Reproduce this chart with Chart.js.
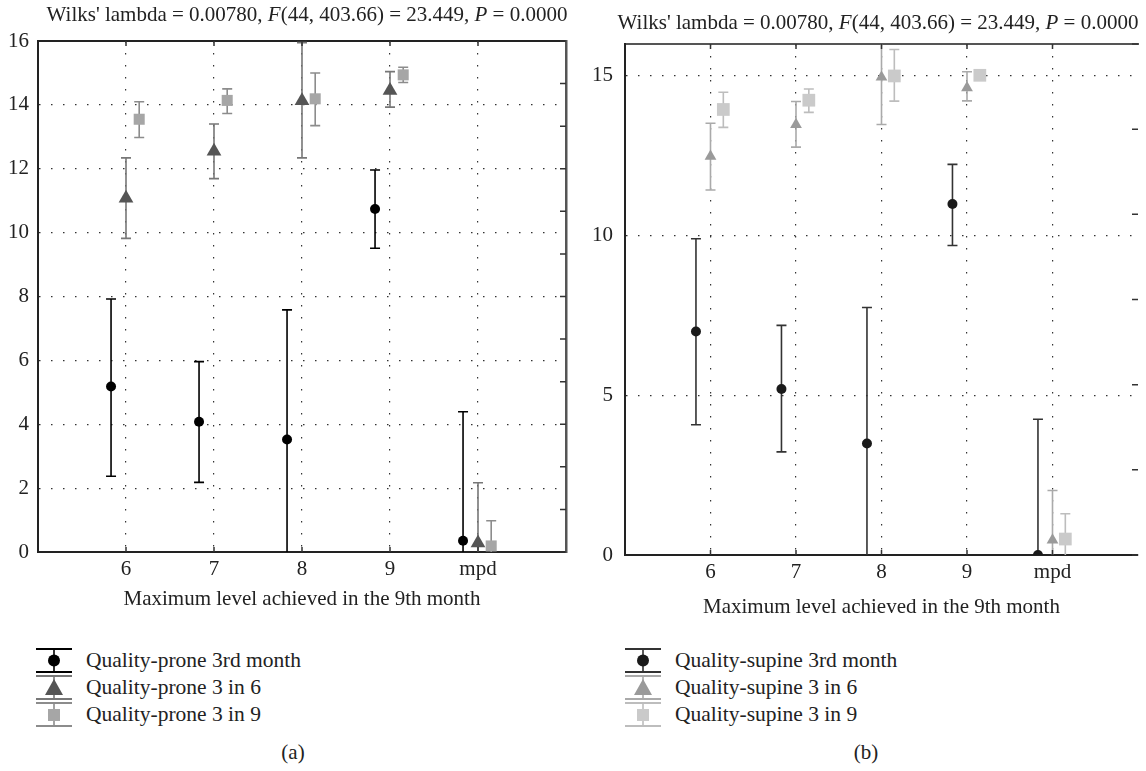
<!DOCTYPE html>
<html>
<head>
<meta charset="utf-8">
<script src="https://cdn.jsdelivr.net/npm/chart.js@4.4.0/dist/chart.umd.min.js"></script>
<style>
  body { margin: 0; background: #fff; overflow: hidden; font-family: "Liberation Serif", serif; color: #222; }
  #page { position: relative; width: 1146px; height: 771px; overflow: hidden; }
  canvas { position: absolute; top: 0; }
  .title { position: absolute; font-size: 21px; line-height: 24px; white-space: nowrap; transform: translateX(-50%); }
  .legend { position: absolute; font-size: 21.5px; }
  .row { height: 27px; display: flex; align-items: center; white-space: nowrap; }
  .row svg { margin-right: 14px; }
  .tag { position: absolute; font-size: 21px; line-height: 24px; transform: translateX(-50%); }
</style>
</head>
<body>
<div id="page">
  <canvas id="proneCanvas" width="580" height="620" style="left:0"></canvas>
  <canvas id="supineCanvas" width="567" height="620" style="left:580px"></canvas>

  <div class="title" style="left:307px; top:2px">Wilks' lambda = 0.00780, <i>F</i>(44, 403.66) = 23.449, <i>P</i> = 0.0000</div>
  <div class="title" style="left:878px; top:10px">Wilks' lambda = 0.00780, <i>F</i>(44, 403.66) = 23.449, <i>P</i> = 0.0000</div>

  <div class="legend" id="proneLegend" style="left:36px; top:647px"></div>
  <div class="legend" id="supineLegend" style="left:625px; top:647px"></div>

  <div class="tag" style="left:293px; top:740px">(a)</div>
  <div class="tag" style="left:866px; top:740px">(b)</div>
</div>

<script>
// categories on the x axis (mpd sits in the 10th slot)
var categories = ['6', '7', '8', '9', 'mpd'];
var catPos = [6, 7, 8, 9, 10];

// (a) prone
var proneMonth3 = [5.18, 4.08, 3.52, 10.74, 0.35];
var proneMonth3Lo = [2.37, 2.18, -0.54, 9.51, -3.70];
var proneMonth3Hi = [7.92, 5.96, 7.58, 11.96, 4.39];
var prone3in6 = [11.08, 12.55, 14.13, 14.45, 0.28];
var prone3in6Lo = [9.82, 11.69, 12.34, 13.93, -1.60];
var prone3in6Hi = [12.34, 13.40, 15.95, 15.04, 2.17];
var prone3in9 = [13.55, 14.14, 14.19, 14.94, 0.19];
var prone3in9Lo = [12.98, 13.73, 13.35, 14.70, -0.60];
var prone3in9Hi = [14.10, 14.50, 15.00, 15.18, 0.98];

// (b) supine
var supineMonth3 = [7.00, 5.20, 3.49, 10.99, 0.00];
var supineMonth3Lo = [4.08, 3.23, -0.77, 9.69, -4.25];
var supineMonth3Hi = [9.90, 7.19, 7.75, 12.23, 4.25];
var supine3in6 = [12.48, 13.48, 14.96, 14.63, 0.47];
var supine3in6Lo = [11.43, 12.77, 13.48, 14.22, -1.10];
var supine3in6Hi = [13.52, 14.20, 16.44, 15.13, 2.02];
var supine3in9 = [13.95, 14.24, 15.00, 15.02, 0.50];
var supine3in9Lo = [13.39, 13.86, 14.21, 14.90, -0.30];
var supine3in9Hi = [14.49, 14.59, 15.83, 15.15, 1.29];

var proneLabels = ['Quality-prone 3rd month', 'Quality-prone 3 in 6', 'Quality-prone 3 in 9'];
var supineLabels = ['Quality-supine 3rd month', 'Quality-supine 3 in 6', 'Quality-supine 3 in 9'];

Chart.defaults.font.family = '"Liberation Serif", serif';
Chart.defaults.color = '#222';

function points(values, lows, highs, shift) {
  return catPos.map(function (c, i) {
    return { x: c + shift, y: values[i], lo: lows[i], hi: highs[i] };
  });
}

// error bars, drawn under the markers
var whiskerPlugin = {
  id: 'whiskers',
  beforeDatasetsDraw: function (chart) {
    var ctx = chart.ctx, xs = chart.scales.x, ys = chart.scales.y, a = chart.chartArea;
    ctx.save();
    ctx.beginPath();
    ctx.rect(a.left, a.top, a.right - a.left, a.bottom - a.top);
    ctx.clip();
    chart.data.datasets.forEach(function (ds) {
      ctx.strokeStyle = ds.whiskerColor;
      ctx.lineWidth = 1.6;
      ds.data.forEach(function (p) {
        var x = xs.getPixelForValue(p.x);
        var yl = ys.getPixelForValue(p.lo), yh = ys.getPixelForValue(p.hi);
        ctx.beginPath();
        ctx.moveTo(x, yl); ctx.lineTo(x, yh);
        ctx.moveTo(x - 5, yh); ctx.lineTo(x + 5, yh);
        ctx.moveTo(x - 5, yl); ctx.lineTo(x + 5, yl);
        ctx.stroke();
      });
    });
    ctx.restore();
  }
};

// small tick marks pointing into the plot
var inTicksPlugin = {
  id: 'inTicks',
  afterDraw: function (chart) {
    var ctx = chart.ctx, a = chart.chartArea, s = chart.scales;
    ctx.save();
    ctx.strokeStyle = '#333';
    ctx.lineWidth = 1.5;
    ctx.beginPath();
    s.x.ticks.forEach(function (t) {
      var x = s.x.getPixelForValue(t.value);
      ctx.moveTo(x, a.bottom); ctx.lineTo(x, a.bottom - 5);
      ctx.moveTo(x, a.top); ctx.lineTo(x, a.top + 5);
    });
    s.y2.ticks.forEach(function (t) {
      var y = s.y2.getPixelForValue(t.value);
      ctx.moveTo(a.right, y); ctx.lineTo(a.right - 6, y);
    });
    ctx.stroke();
    ctx.restore();
  }
};

function catTicks(scale) {
  scale.ticks = catPos.map(function (v) { return { value: v }; });
}

function makeChart(id, sets, o) {
  var config = {
    type: 'scatter',
    data: {
      datasets: sets.map(function (d) {
        return {
          label: d.label,
          data: d.data,
          pointStyle: d.style,
          pointRadius: d.radius,
          pointHoverRadius: d.radius,
          backgroundColor: d.fill,
          borderColor: d.fill,
          borderWidth: 0,
          whiskerColor: d.whisker,
          clip: 0
        };
      })
    },
    options: {
      responsive: false,
      animation: false,
      devicePixelRatio: 1,
      layout: { padding: 0 },
      plugins: { legend: { display: false }, tooltip: { enabled: false } },
      scales: {
        x: {
          type: 'linear', position: 'bottom', min: 5, max: 11,
          afterBuildTicks: catTicks,
          ticks: {
            font: { size: 21 }, color: '#222', padding: 5, maxRotation: 0, autoSkip: false,
            callback: function (v) { return categories[catPos.indexOf(v)]; }
          },
          grid: { color: '#333', lineWidth: 1.2, drawTicks: false },
          border: { color: '#222', width: 2, dash: [1.5, 10.5] },
          title: {
            display: true, text: 'Maximum level achieved in the 9th month',
            font: { size: 21 }, color: '#222', padding: { top: 0, bottom: o.titlePad }
          },
          afterFit: function (s) { s.height = o.bottom; }
        },
        x2: {
          type: 'linear', position: 'top', min: 5, max: 11,
          afterBuildTicks: catTicks,
          ticks: { display: false },
          grid: { drawOnChartArea: false, drawTicks: false },
          border: { color: o.topColor, width: 2 },
          afterFit: function (s) { s.height = o.top; }
        },
        y: {
          type: 'linear', position: 'left', min: 0, max: 16,
          afterBuildTicks: function (s) {
            s.ticks = o.yTicks.map(function (v) { return { value: v }; });
          },
          ticks: { font: { size: 21 }, color: '#222', padding: o.yPad },
          grid: { color: '#333', lineWidth: 1.2, drawTicks: false },
          border: { color: '#222', width: 2, dash: [1.5, 10.5] },
          afterFit: function (s) { s.width = o.left; }
        },
        y2: {
          type: 'linear', position: 'right', min: 0, max: o.rightMax,
          ticks: { display: false, stepSize: 1 },
          grid: { drawOnChartArea: false, drawTicks: false },
          border: { display: o.rightBorder, color: '#555', width: 2.5 },
          afterFit: function (s) { s.width = o.right; }
        }
      }
    },
    plugins: [whiskerPlugin, inTicksPlugin]
  };
  return new Chart(document.getElementById(id), config);
}

var proneChart = makeChart('proneCanvas', [
  { label: proneLabels[0], data: points(proneMonth3, proneMonth3Lo, proneMonth3Hi, -0.17), style: 'circle', radius: 5, fill: '#000', whisker: '#000' },
  { label: proneLabels[1], data: points(prone3in6, prone3in6Lo, prone3in6Hi, 0), style: 'triangle', radius: 8.5, fill: '#555', whisker: '#777' },
  { label: proneLabels[2], data: points(prone3in9, prone3in9Lo, prone3in9Hi, 0.15), style: 'rect', radius: 7.8, fill: '#a6a6a6', whisker: '#8c8c8c' }
], { left: 38, right: 14, top: 41, bottom: 68, titlePad: 8, yPad: 9, rightMax: 12, rightBorder: true, topColor: '#222',
     yTicks: [0, 2, 4, 6, 8, 10, 12, 14, 16] });

var supineChart = makeChart('supineCanvas', [
  { label: supineLabels[0], data: points(supineMonth3, supineMonth3Lo, supineMonth3Hi, -0.17), style: 'circle', radius: 5, fill: '#1a1a1a', whisker: '#333' },
  { label: supineLabels[1], data: points(supine3in6, supine3in6Lo, supine3in6Hi, 0), style: 'triangle', radius: 6.8, fill: '#9a9a9a', whisker: '#aaa' },
  { label: supineLabels[2], data: points(supine3in9, supine3in9Lo, supine3in9Hi, 0.15), style: 'rect', radius: 9, fill: '#cacaca', whisker: '#bdbdbd' }
], { left: 45, right: 0, top: 44, bottom: 65, titlePad: 0, yPad: 12, rightMax: 6, rightBorder: false, topColor: '#555',
     yTicks: [0, 5, 10, 15] });

// legend rows: error-bar icon plus label
function legendIcon(kind, fill, line) {
  var m;
  if (kind === 'circle') m = '<circle cx="18" cy="13.5" r="6" fill="' + fill + '"/>';
  else if (kind === 'triangle') m = '<polygon points="18,5 27,21 9,21" fill="' + fill + '"/>';
  else m = '<rect x="12" y="8" width="12" height="12" fill="' + fill + '"/>';
  return '<svg width="36" height="27">' +
    '<line x1="0" y1="2" x2="36" y2="2" stroke="' + line + '" stroke-width="2"/>' +
    '<line x1="0" y1="25" x2="36" y2="25" stroke="' + line + '" stroke-width="2"/>' +
    '<line x1="18" y1="2" x2="18" y2="25" stroke="' + line + '" stroke-width="1.6"/>' + m + '</svg>';
}

function fillLegend(el, chart, kinds) {
  var html = '';
  chart.data.datasets.forEach(function (ds, i) {
    html += '<div class="row">' + legendIcon(kinds[i], ds.backgroundColor, ds.whiskerColor) + '<span>' + ds.label + '</span></div>';
  });
  document.getElementById(el).innerHTML = html;
}

fillLegend('proneLegend', proneChart, ['circle', 'triangle', 'rect']);
fillLegend('supineLegend', supineChart, ['circle', 'triangle', 'rect']);
</script>
</body>
</html>
